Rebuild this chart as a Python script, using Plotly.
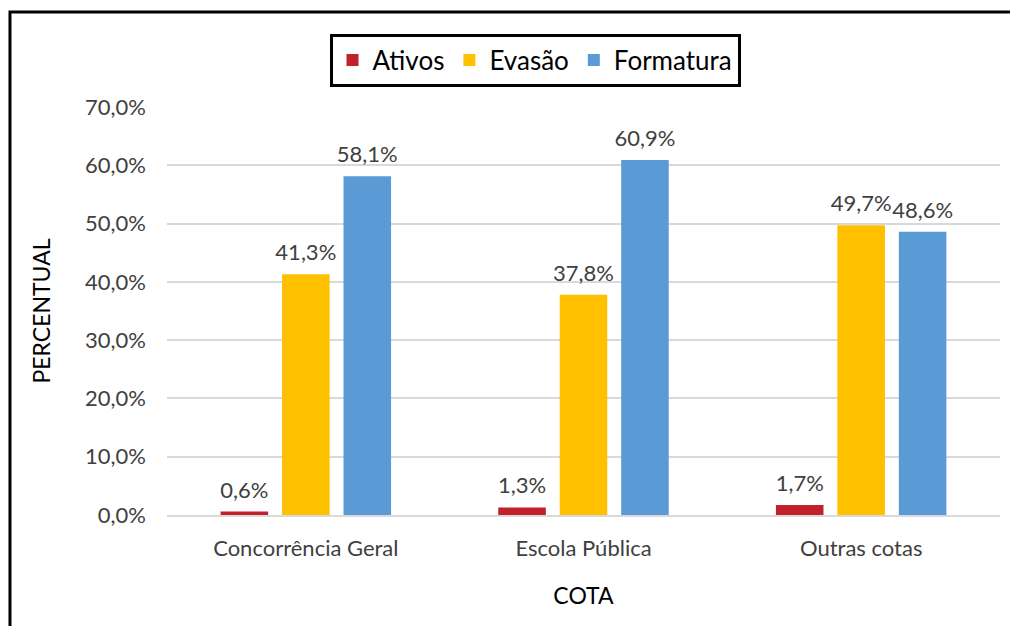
import plotly.graph_objects as go

# --------------------------------------------------
# DATA
# --------------------------------------------------

categorias = ["Concorrência Geral", "Escola Pública", "Outras cotas"]

ativos = [0.6, 1.3, 1.7]
evasao = [41.3, 37.8, 49.7]
formatura = [58.1, 60.9, 48.6]

series = [
    ("Ativos", ativos, "#C0212B"),
    ("Evasão", evasao, "#FFC000"),
    ("Formatura", formatura, "#5B9BD5"),
]

FONT = "Lato, Open Sans, sans-serif"
TXT = "#404040"

# --------------------------------------------------
# FIGURE
# --------------------------------------------------

fig = go.Figure()

for nome, valores, cor in series:
    fig.add_trace(
        go.Bar(
            x=categorias,
            y=valores,
            name=nome,
            offsetgroup=nome,
            marker=dict(color=cor, line=dict(width=0)),
            hoverinfo="x+y+name",
        )
    )

# data labels, pushed up by an invisible marker
for nome, valores, cor in series:
    fig.add_trace(
        go.Scatter(
            x=categorias,
            y=valores,
            offsetgroup=nome,
            mode="markers+text",
            marker=dict(size=12, opacity=0),
            texttemplate="%{y:.1f}%",
            textposition="top center",
            textfont=dict(family=FONT, size=22, color=TXT),
            cliponaxis=False,
            showlegend=False,
            hoverinfo="skip",
        )
    )

fig.update_layout(
    width=1018,
    height=626,
    margin=dict(l=159, r=26, t=99, b=119),
    paper_bgcolor="white",
    plot_bgcolor="white",
    separators=",.",
    barmode="group",
    bargap=0.336,
    bargroupgap=0.226,
    scattermode="group",
    scattergap=0.336,
    font=dict(family=FONT, size=22, color=TXT),
    legend=dict(
        orientation="h",
        x=0.4418,
        xanchor="center",
        y=1.115,
        yanchor="middle",
        bordercolor="black",
        borderwidth=3,
        font=dict(family=FONT, size=26, color="black"),
        itemwidth=30,
        tracegroupgap=0,
    ),
    xaxis=dict(
        title=dict(text="COTA", font=dict(size=23, color="black"), standoff=27),
        showgrid=False,
        showline=True,
        linecolor="#D9D9D9",
        linewidth=2,
        ticks="",
        ticklabelstandoff=13,
        tickfont=dict(size=22, color=TXT),
    ),
    yaxis=dict(
        title=dict(text="PERCENTUAL", font=dict(size=23, color="black"), standoff=28),
        range=[0, 70],
        dtick=10,
        tickformat=".1f",
        ticksuffix="%",
        showgrid=True,
        gridcolor="#D9D9D9",
        gridwidth=2,
        zeroline=False,
        ticks="",
        ticklabelstandoff=20,
        tickfont=dict(size=22, color=TXT),
    ),
    shapes=[
        dict(
            type="rect",
            xref="paper",
            yref="paper",
            x0=-0.1885,
            x1=1.0204,
            y0=-0.30,
            y1=1.2328,
            line=dict(color="black", width=3),
            fillcolor="rgba(0,0,0,0)",
            layer="below",
        )
    ],
)

fig.write_html("out.html")
